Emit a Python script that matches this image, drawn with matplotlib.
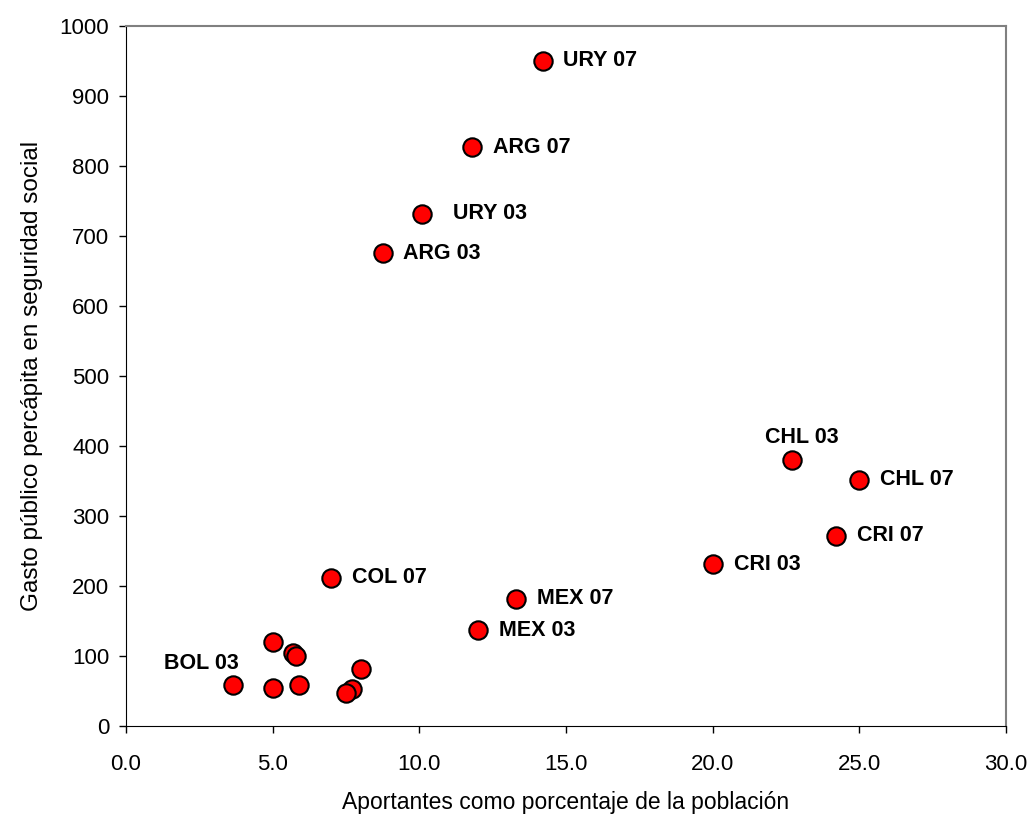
import numpy as np
import matplotlib.pyplot as plt

plt.rcParams['font.family'] = ['Liberation Sans', 'DejaVu Sans']

# Data
labels = ['URY 07', 'ARG 07', 'URY 03', 'ARG 03', 'CHL 03', 'CHL 07', 'CRI 07',
          'CRI 03', 'COL 07', 'MEX 07', 'MEX 03', 'BOL 03',
          '', '', '', '', '', '', '', '']
aportantes = [14.2, 11.8, 10.1, 8.75, 22.7, 25.0, 24.2,
              20.0, 7.0, 13.3, 12.0, 3.65,
              5.0, 5.7, 5.8, 5.0, 5.9, 8.0, 7.7, 7.5]
gasto = [950, 827, 732, 675, 380, 352, 272,
         231, 212, 182, 137, 58,
         120, 104, 100, 55, 58, 81, 53, 47]

fig = plt.figure(figsize=(10.32, 8.15), dpi=100)
ax = fig.add_axes([126 / 1032, 1 - 726 / 815, 880 / 1032, 700 / 815])

ax.scatter(aportantes, gasto, s=175, c='#ff0000', edgecolors='black',
           linewidths=1.5, zorder=3, clip_on=False)

# label offsets in points (dx, dy, ha)
offsets = {
    'URY 03': (22, 0, 'left'),
    'CHL 03': (7, 16, 'center'),
    'BOL 03': (4, 16, 'right'),
}
for x, y, lab in zip(aportantes, gasto, labels):
    if not lab:
        continue
    dx, dy, ha = offsets.get(lab, (15, 0, 'left'))
    ax.annotate(lab, (x, y), xytext=(dx, dy), textcoords='offset points',
                ha=ha, va='center', fontsize=15.5, fontweight='bold')

ax.set_xlim(0, 30)
ax.set_ylim(0, 1000)
ax.set_xticks(np.arange(0, 30.1, 5))
ax.set_xticklabels([f'{v:.1f}' for v in np.arange(0, 30.1, 5)])
ax.set_yticks(np.arange(0, 1001, 100))

ax.tick_params(axis='both', direction='out', length=5, width=1, labelsize=16, pad=7)
ax.tick_params(axis='x', pad=15)
ax.spines['top'].set_color('#808080')
ax.spines['right'].set_color('#808080')
ax.spines['top'].set_linewidth(1.5)
ax.spines['right'].set_linewidth(1.5)

ax.set_xlabel('Aportantes como porcentaje de la población', fontsize=16.5, labelpad=12)
ax.set_ylabel('Gasto público percápita en seguridad social', fontsize=17.5, labelpad=12)

fig.savefig('out.png', dpi=100)
